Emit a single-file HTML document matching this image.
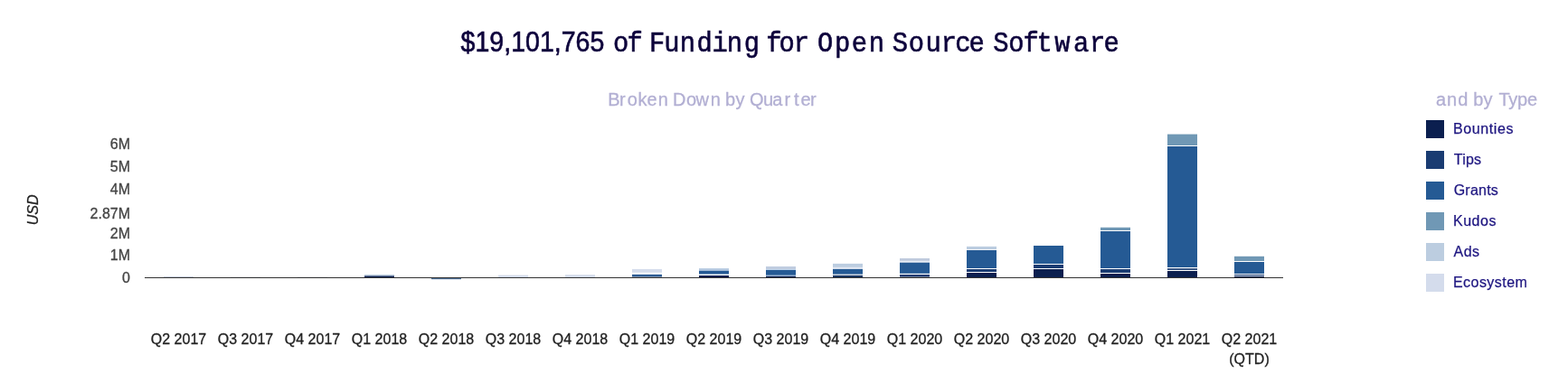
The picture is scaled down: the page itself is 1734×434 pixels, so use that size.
<!DOCTYPE html>
<html><head><meta charset="utf-8"><title>Funding for Open Source Software</title>
<style>
html,body{margin:0;padding:0;background:#fff;}
body{width:1734px;height:434px;overflow:hidden;position:relative;font-family:"Liberation Sans",sans-serif;}
svg{position:absolute;left:0;top:0;}
text{font-family:"Liberation Sans",sans-serif;}
.ax{font-size:16px;fill:#222;stroke:#222;stroke-width:0.3px;}
.ay{fill:#444;stroke:#444;}
.lg{font-size:16px;fill:#1d1580;stroke:#1d1580;stroke-width:0.25px;}
</style></head><body>
<svg width="1734" height="434" viewBox="0 0 1734 434">
<rect width="1734" height="434" fill="#fff"/>
<g id="title" font-size="32" fill="#0d023b" stroke="#0d023b" stroke-width="0.6">
<text font-size="31" transform="translate(509.6 57) scale(0.921 1)" x="0" y="0">$19,101,765</text>
<text style="font-family:'Liberation Mono',monospace" font-size="32" stroke-width="0.6" transform="translate(0 57) scale(0.9 1)" x="753.3 770.5" y="0">of</text>
<text style="font-family:'Liberation Mono',monospace" font-size="32" stroke-width="0.6" transform="translate(0 57) scale(0.9 1)" x="797.8 815.8 835.3 856.1 875.1 893.1 914.3" y="0">Funding</text>
<text style="font-family:'Liberation Mono',monospace" font-size="32" stroke-width="0.6" transform="translate(0 57) scale(0.9 1)" x="941.4 957.3 975.2" y="0">for</text>
<text style="font-family:'Liberation Mono',monospace" font-size="32" stroke-width="0.6" transform="translate(0 57) scale(0.9 1)" x="1004.4 1025.7 1046.4 1067.6" y="0">Open</text>
<text style="font-family:'Liberation Mono',monospace" font-size="32" stroke-width="0.6" transform="translate(0 57) scale(0.9 1)" x="1096.5 1116.3 1137.3 1156.4 1173.6 1190.7" y="0">Source</text>
<text style="font-family:'Liberation Mono',monospace" font-size="32" stroke-width="0.6" transform="translate(0 57) scale(0.9 1)" x="1220.2 1239.1 1257.2 1273.8 1295.9 1319.0 1339.0 1356.1" y="0">Software</text>
</g>
<g id="sub" font-size="20" fill="#b2afd3" stroke="#b2afd3" stroke-width="0.3">
<text style="font-family:'Liberation Sans',sans-serif" font-size="20" stroke-width="0.3" transform="translate(0 117) scale(1 1)" x="672.3 685.1 693.8 705.6 715.4 727.7" y="0">Broken</text>
<text style="font-family:'Liberation Sans',sans-serif" font-size="20" stroke-width="0.3" transform="translate(0 117) scale(1 1)" x="744.0 759.0 769.5 785.8" y="0">Down</text>
<text style="font-family:'Liberation Sans',sans-serif" font-size="20" stroke-width="0.3" transform="translate(0 117) scale(1 1)" x="802.0 813.6" y="0">by</text>
<text style="font-family:'Liberation Sans',sans-serif" font-size="20" stroke-width="0.3" transform="translate(0 117) scale(1 1)" x="828.9 843.9 854.2 867.6 878.0 885.4 895.9" y="0">Quarter</text>
</g>
<g id="lt" font-size="20" fill="#b2afd3" stroke="#b2afd3" stroke-width="0.3">
<text x="1588" y="117" letter-spacing="0.95">and</text>
<text x="1629.2" y="117" letter-spacing="0.3">by</text>
<text x="1657.4" y="117" letter-spacing="-0.2">Type</text>
</g>

<g id="bars">
<rect x="181" y="306" width="33" height="1" fill="#c8cfdc"/>
<rect x="255" y="306.4" width="33" height="0.6" fill="#d5dae4"/>
<rect x="329" y="306.4" width="33" height="0.6" fill="#d5dae4"/>
<rect x="403" y="304" width="33" height="1.5" fill="#bccde0"/>
<rect x="403" y="305.5" width="33" height="1.5" fill="#0b1f4f"/>
<rect x="477" y="307.6" width="33" height="1.6" fill="#4f7197"/>
<rect x="551" y="304.6" width="33" height="2.4" fill="#d4dcec"/>
<rect x="625" y="304.2" width="33" height="2.8" fill="#d4dcec"/>
<rect x="699" y="297.9" width="33" height="3.9" fill="#d4dcec"/>
<rect x="699" y="303.4" width="33" height="0.6" fill="#c5d6ea"/>
<rect x="699" y="304" width="33" height="2.3" fill="#2d5c93"/>
<rect x="699" y="306.3" width="33" height="0.7" fill="#5d7696"/>
<rect x="773" y="297.1" width="33" height="2.7" fill="#b5c9e0"/>
<rect x="773" y="299.8" width="33" height="3.7" fill="#255a94"/>
<rect x="773" y="305" width="33" height="2" fill="#0b1f4f"/>
<rect x="847" y="295" width="33" height="3.3" fill="#c0cde0"/>
<rect x="847" y="298.3" width="33" height="0.7" fill="#a9c6e6"/>
<rect x="847" y="299" width="33" height="5.8" fill="#255a94"/>
<rect x="847" y="304.8" width="33" height="1.0" fill="#a9c6e6"/>
<rect x="847" y="305.8" width="33" height="1.2" fill="#0b1f4f"/>
<rect x="921" y="291.9" width="33" height="4.0" fill="#bccde0"/>
<rect x="921" y="295.9" width="33" height="2.0" fill="#e4e9f4"/>
<rect x="921" y="297.9" width="33" height="5.7" fill="#255a94"/>
<rect x="921" y="304.8" width="33" height="2.2" fill="#1a3560"/>
<rect x="995" y="286" width="33" height="2.9" fill="#bfcadd"/>
<rect x="995" y="288.9" width="33" height="1.8" fill="#e8eef6"/>
<rect x="995" y="290.7" width="33" height="12.1" fill="#255a94"/>
<rect x="995" y="304" width="33" height="2" fill="#1a3c72"/>
<rect x="995" y="306" width="33" height="1" fill="#6a7a95"/>
<rect x="1069" y="272.9" width="33" height="3.3" fill="#bccde0"/>
<rect x="1069" y="277" width="33" height="20" fill="#255a94"/>
<rect x="1069" y="298" width="33" height="3" fill="#1a3c72"/>
<rect x="1069" y="302" width="33" height="5" fill="#0b1f4f"/>
<rect x="1143" y="272" width="33" height="20" fill="#255a94"/>
<rect x="1143" y="293" width="33" height="4" fill="#1a3c72"/>
<rect x="1143" y="298" width="33" height="9" fill="#0b1f4f"/>
<rect x="1217" y="251.8" width="33" height="3.2" fill="#7098b5"/>
<rect x="1217" y="256" width="33" height="41" fill="#255a94"/>
<rect x="1217" y="298" width="33" height="4" fill="#1a3c72"/>
<rect x="1217" y="303" width="33" height="4" fill="#0b1f4f"/>
<rect x="1291" y="148.6" width="33" height="12.4" fill="#7098b5"/>
<rect x="1291" y="162" width="33" height="134" fill="#255a94"/>
<rect x="1291" y="297.2" width="33" height="1.7" fill="#1a3c72"/>
<rect x="1291" y="300" width="33" height="7" fill="#0b1f4f"/>
<rect x="1365" y="283.8" width="33" height="5.2" fill="#7098b5"/>
<rect x="1365" y="290" width="33" height="13" fill="#255a94"/>
<rect x="1365" y="304" width="33" height="1.2" fill="#1a3c72"/>
<rect x="1365" y="306" width="33" height="1" fill="#0b1f4f"/>
</g>
<rect x="160" y="307" width="1259" height="1" fill="#333"/>
<text class="ax ay" x="144" y="165" text-anchor="end">6M</text>
<text class="ax ay" x="144" y="190" text-anchor="end">5M</text>
<text class="ax ay" x="144" y="215" text-anchor="end">4M</text>
<text class="ax ay" x="144" y="242" text-anchor="end">2.87M</text>
<text class="ax ay" x="144" y="264" text-anchor="end">2M</text>
<text class="ax ay" x="144" y="288" text-anchor="end">1M</text>
<text class="ax ay" x="144" y="313" text-anchor="end">0</text>
<text class="ax" font-style="italic" text-anchor="middle" transform="translate(42 232.3) rotate(-90)">USD</text>
<text class="ax" x="197.5" y="381" text-anchor="middle">Q2 2017</text>
<text class="ax" x="271.5" y="381" text-anchor="middle">Q3 2017</text>
<text class="ax" x="345.5" y="381" text-anchor="middle">Q4 2017</text>
<text class="ax" x="419.5" y="381" text-anchor="middle">Q1 2018</text>
<text class="ax" x="493.5" y="381" text-anchor="middle">Q2 2018</text>
<text class="ax" x="567.5" y="381" text-anchor="middle">Q3 2018</text>
<text class="ax" x="641.5" y="381" text-anchor="middle">Q4 2018</text>
<text class="ax" x="715.5" y="381" text-anchor="middle">Q1 2019</text>
<text class="ax" x="789.5" y="381" text-anchor="middle">Q2 2019</text>
<text class="ax" x="863.5" y="381" text-anchor="middle">Q3 2019</text>
<text class="ax" x="937.5" y="381" text-anchor="middle">Q4 2019</text>
<text class="ax" x="1011.5" y="381" text-anchor="middle">Q1 2020</text>
<text class="ax" x="1085.5" y="381" text-anchor="middle">Q2 2020</text>
<text class="ax" x="1159.5" y="381" text-anchor="middle">Q3 2020</text>
<text class="ax" x="1233.5" y="381" text-anchor="middle">Q4 2020</text>
<text class="ax" x="1307.5" y="381" text-anchor="middle">Q1 2021</text>
<text class="ax" x="1381.5" y="381" text-anchor="middle">Q2 2021</text>
<text class="ax" x="1381.5" y="402.7" text-anchor="middle">(QTD)</text>
<rect x="1577" y="133" width="20" height="20" fill="#0b1f4f"/>
<text class="lg" x="1607" y="148" letter-spacing="0.61">Bounties</text>
<rect x="1577" y="167" width="20" height="20" fill="#1a3c72"/>
<text class="lg" x="1607.8" y="182" letter-spacing="0.2">Tips</text>
<rect x="1577" y="201" width="20" height="20" fill="#255a94"/>
<text class="lg" x="1607.7" y="216" letter-spacing="0.22">Grants</text>
<rect x="1577" y="235" width="20" height="20" fill="#7098b5"/>
<text class="lg" x="1607" y="250" letter-spacing="0.52">Kudos</text>
<rect x="1577" y="269" width="20" height="20" fill="#bccde0"/>
<text class="lg" x="1607.6" y="284" letter-spacing="0.4">Ads</text>
<rect x="1577" y="303" width="20" height="20" fill="#d4dcec"/>
<text class="lg" x="1607" y="318" letter-spacing="0.45">Ecosystem</text>
</svg></body></html>
